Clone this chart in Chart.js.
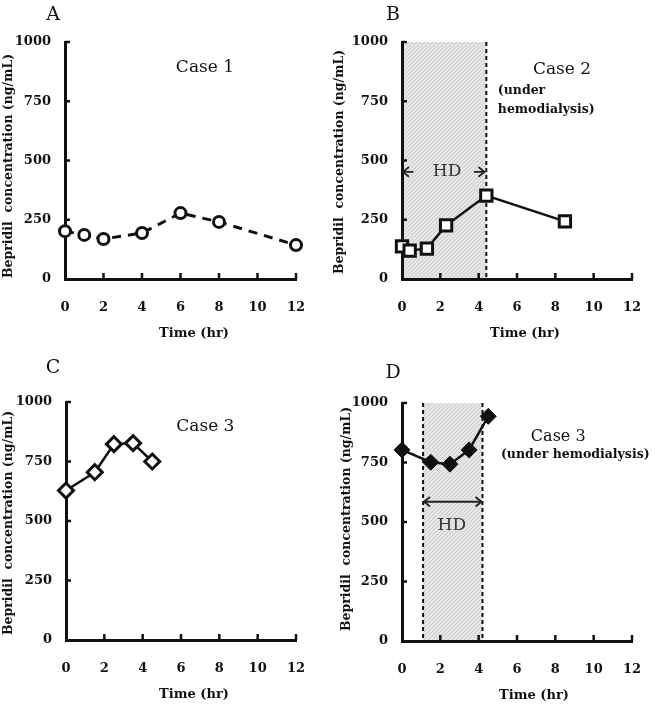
<!DOCTYPE html>
<html>
<head>
<meta charset="utf-8">
<script src="https://cdn.jsdelivr.net/npm/chart.js@4.4.1/dist/chart.umd.min.js"></script>
<style>
  html, body { margin:0; padding:0; background:#fff; }
  #wrap { position:relative; width:655px; height:705px; background:#fff; }
  canvas { position:absolute; }
</style>
</head>
<body>
<div id="wrap">
  <canvas id="cA" width="327" height="352" style="left:0;top:0;width:327px;height:352px"></canvas>
  <canvas id="cB" width="328" height="352" style="left:327px;top:0;width:328px;height:352px"></canvas>
  <canvas id="cC" width="327" height="352" style="left:0;top:353px;width:327px;height:352px"></canvas>
  <canvas id="cD" width="328" height="352" style="left:327px;top:353px;width:328px;height:352px"></canvas>
</div>
<script>
// ---- data ----
const timeA = [0, 1, 2, 4, 6, 8, 12];
const concA = [202, 186, 169, 194, 278, 241, 143];
const timeB = [0, 0.4, 1.3, 2.3, 4.4, 8.5];
const concB = [138, 120, 128, 226, 352, 243];
const timeC = [0, 1.5, 2.5, 3.5, 4.5];
const concC = [628, 705, 823, 827, 750];
const timeD = [0, 1.5, 2.5, 3.5, 4.5];
const concD = [803, 751, 743, 803, 944];
const xTicks = [0, 2, 4, 6, 8, 10, 12];
const yTicks = [0, 250, 500, 750, 1000];
const hdB = [0, 4.4];
const hdD = [1.1, 4.2];
const panelLetters = ['A', 'B', 'C', 'D'];
const caseLabels = ['Case 1', 'Case 2', 'Case 3', 'Case 3'];
const yTitle = 'Bepridil  concentration (ng/mL)';
const xTitle = 'Time (hr)';

const FONT = "'DejaVu Serif', 'Liberation Serif', serif";

function pts(xs, ys) { return xs.map((v, i) => ({ x: v, y: ys[i] })); }

function hatch(ctx) {
  const c = document.createElement('canvas');
  c.width = 4; c.height = 4;
  const g = c.getContext('2d');
  g.fillStyle = '#e6e6e6'; g.fillRect(0, 0, 4, 4);
  g.strokeStyle = '#cbcbcb'; g.lineWidth = 1;
  g.beginPath(); g.moveTo(0, 4); g.lineTo(4, 0); g.stroke();
  return ctx.createPattern(c, 'repeat');
}

function arrowHead(ctx, x, y, dir, size) {
  ctx.beginPath();
  ctx.moveTo(x - dir * size, y - size * 0.8);
  ctx.lineTo(x, y);
  ctx.lineTo(x - dir * size, y + size * 0.8);
  ctx.stroke();
}

const panelPlugin = {
  id: 'panel',
  beforeDraw(chart, args, o) {
    const { ctx, scales: { x, y } } = chart;
    ctx.save();
    ctx.fillStyle = '#fff';
    ctx.fillRect(0, 0, chart.width, chart.height);
    if (o.hd) {
      const x0 = x.getPixelForValue(o.hd[0]), x1 = x.getPixelForValue(o.hd[1]);
      const yt = y.getPixelForValue(1000), yb = y.getPixelForValue(0);
      ctx.fillStyle = hatch(ctx);
      ctx.fillRect(x0, yt, x1 - x0, yb - yt);
    }
    ctx.restore();
  },
  beforeDatasetsDraw(chart, args, o) {
    const { ctx, scales: { x, y } } = chart;
    ctx.save();
    ctx.strokeStyle = '#111';
    ctx.lineWidth = 2.5;
    const yb = y.getPixelForValue(0), xl = x.getPixelForValue(0);
    xTicks.forEach(v => {
      if (v === 0) return;
      const px = x.getPixelForValue(v);
      ctx.beginPath(); ctx.moveTo(px, yb); ctx.lineTo(px, yb - 6); ctx.stroke();
    });
    yTicks.forEach(v => {
      if (v === 0) return;
      const py = y.getPixelForValue(v);
      ctx.beginPath(); ctx.moveTo(xl, py); ctx.lineTo(xl + 5, py); ctx.stroke();
    });
    if (o.dashed) {
      ctx.lineWidth = 2;
      ctx.setLineDash([4, 3]);
      o.dashed.forEach(v => {
        const px = x.getPixelForValue(v);
        ctx.beginPath(); ctx.moveTo(px, y.getPixelForValue(1000)); ctx.lineTo(px, yb); ctx.stroke();
      });
      ctx.setLineDash([]);
    }
    ctx.restore();
  },
  afterDraw(chart, args, o) {
    const { ctx, scales: { x, y } } = chart;
    ctx.save();
    ctx.fillStyle = '#111';
    ctx.textAlign = 'center';
    ctx.textBaseline = 'middle';
    // panel letter
    ctx.font = '19px ' + FONT;
    ctx.fillText(o.letter, o.letterPos[0], o.letterPos[1]);
    // y title
    ctx.save();
    ctx.font = 'bold 12.5px ' + FONT;
    ctx.translate(o.yTitlePos[0], o.yTitlePos[1]);
    ctx.rotate(-Math.PI / 2);
    ctx.fillText(yTitle, 0, 0);
    ctx.restore();
    // x title
    ctx.font = 'bold 13px ' + FONT;
    ctx.fillText(xTitle, o.xTitlePos[0], o.xTitlePos[1]);
    // in-plot texts (data coordinates)
    (o.texts || []).forEach(t => {
      ctx.font = t.font + ' ' + FONT;
      ctx.textAlign = t.align || 'center';
      ctx.fillStyle = t.color || '#111';
      ctx.fillText(t.t, x.getPixelForValue(t.x), y.getPixelForValue(t.y));
    });
    ctx.textAlign = 'center';
    // arrows
    ctx.strokeStyle = '#222';
    ctx.lineWidth = 1.8;
    (o.arrows || []).forEach(a => {
      const py = y.getPixelForValue(a.y);
      const x0 = x.getPixelForValue(a.x0), x1 = x.getPixelForValue(a.x1);
      ctx.beginPath(); ctx.moveTo(x0, py); ctx.lineTo(x1, py); ctx.stroke();
      if (a.headL) arrowHead(ctx, x0, py, -1, 6);
      if (a.headR) arrowHead(ctx, x1, py, 1, 6);
    });
    ctx.restore();
  }
};

function makeChart(id, data, ds, layout, annot) {
  const [left, top, right, bottom, W, H] = layout;
  return new Chart(document.getElementById(id), {
    type: 'scatter',
    data: { datasets: [Object.assign({
      data: data,
      showLine: true,
      borderColor: '#111',
      pointBorderColor: '#111',
      clip: false
    }, ds)] },
    options: {
      responsive: false,
      animation: false,
      devicePixelRatio: 1,
      layout: { padding: { left: 0, top: top, right: W - right, bottom: 0 } },
      plugins: { legend: { display: false }, tooltip: { enabled: false }, panel: annot },
      scales: {
        x: {
          type: 'linear', min: 0, max: 12,
          afterFit: s => { s.height = H - bottom; },
          afterBuildTicks: s => { s.ticks = xTicks.map(v => ({ value: v })); },
          grid: { display: false },
          border: { display: true, color: '#111', width: 3 },
          ticks: { color: '#111', padding: 13, callback: v => String(v),
                   font: { family: FONT, size: 13, weight: 'bold' } }
        },
        y: {
          type: 'linear', min: 0, max: 1000,
          afterFit: s => { s.width = left; },
          afterBuildTicks: s => { s.ticks = yTicks.map(v => ({ value: v })); },
          grid: { display: false },
          border: { display: true, color: '#111', width: 3 },
          ticks: { color: '#111', padding: 6, callback: v => String(v),
                   font: { family: FONT, size: 13, weight: 'bold' } }
        }
      }
    },
    plugins: [panelPlugin]
  });
}

// Panel A
makeChart('cA', pts(timeA, concA), {
  borderWidth: 3, borderDash: [9, 7],
  pointStyle: 'circle', pointRadius: 5.5, pointBorderWidth: 3, pointBackgroundColor: '#fff'
}, [65, 42, 296, 279, 327, 352], {
  letter: panelLetters[0], letterPos: [53, 15],
  yTitlePos: [9, 166], xTitlePos: [194, 334],
  texts: [{ t: caseLabels[0], x: 7.27, y: 890, font: '17px' }]
});

// Panel B
makeChart('cB', pts(timeB, concB), {
  borderWidth: 2.5,
  pointStyle: 'rect', pointRadius: 8, pointBorderWidth: 3, pointBackgroundColor: '#fff'
}, [75, 42, 305, 279, 328, 352], {
  letter: panelLetters[1], letterPos: [66, 15],
  yTitlePos: [13, 162], xTitlePos: [198, 334],
  hd: hdB, dashed: [hdB[1]],
  texts: [
    { t: caseLabels[1], x: 8.35, y: 882, font: '17px' },
    { t: '(under', x: 5.0, y: 795, font: 'bold 12.5px', align: 'left' },
    { t: 'hemodialysis)', x: 5.0, y: 713, font: 'bold 12.5px', align: 'left' },
    { t: 'HD', x: 2.35, y: 452, font: '17px', color: '#333' }
  ],
  arrows: [
    { x0: 0.05, x1: 0.6, y: 452, headL: true },
    { x0: 3.75, x1: 4.3, y: 452, headR: true }
  ]
});

// Panel C
makeChart('cC', pts(timeC, concC), {
  borderWidth: 2.5,
  pointStyle: 'rectRot', pointRadius: 7.5, pointBorderWidth: 3, pointBackgroundColor: '#fff'
}, [66, 49, 296, 287, 327, 352], {
  letter: panelLetters[2], letterPos: [53, 15],
  yTitlePos: [9, 170], xTitlePos: [194, 342],
  texts: [{ t: caseLabels[2], x: 7.27, y: 896, font: '17px' }]
});

// Panel D
makeChart('cD', pts(timeD, concD), {
  borderWidth: 2.5,
  pointStyle: 'rectRot', pointRadius: 8, pointBorderWidth: 1, pointBackgroundColor: '#111'
}, [75, 50, 305, 288, 328, 352], {
  letter: panelLetters[3], letterPos: [66, 20],
  yTitlePos: [20, 166], xTitlePos: [207, 343],
  hd: hdD, dashed: hdD,
  texts: [
    { t: caseLabels[3], x: 8.15, y: 858, font: '16px' },
    { t: '(under hemodialysis)', x: 9.04, y: 782, font: 'bold 12.5px' },
    { t: 'HD', x: 2.6, y: 487, font: '17px', color: '#333' }
  ],
  arrows: [
    { x0: 1.15, x1: 4.15, y: 585, headL: true, headR: true }
  ]
});
</script>
</body>
</html>
